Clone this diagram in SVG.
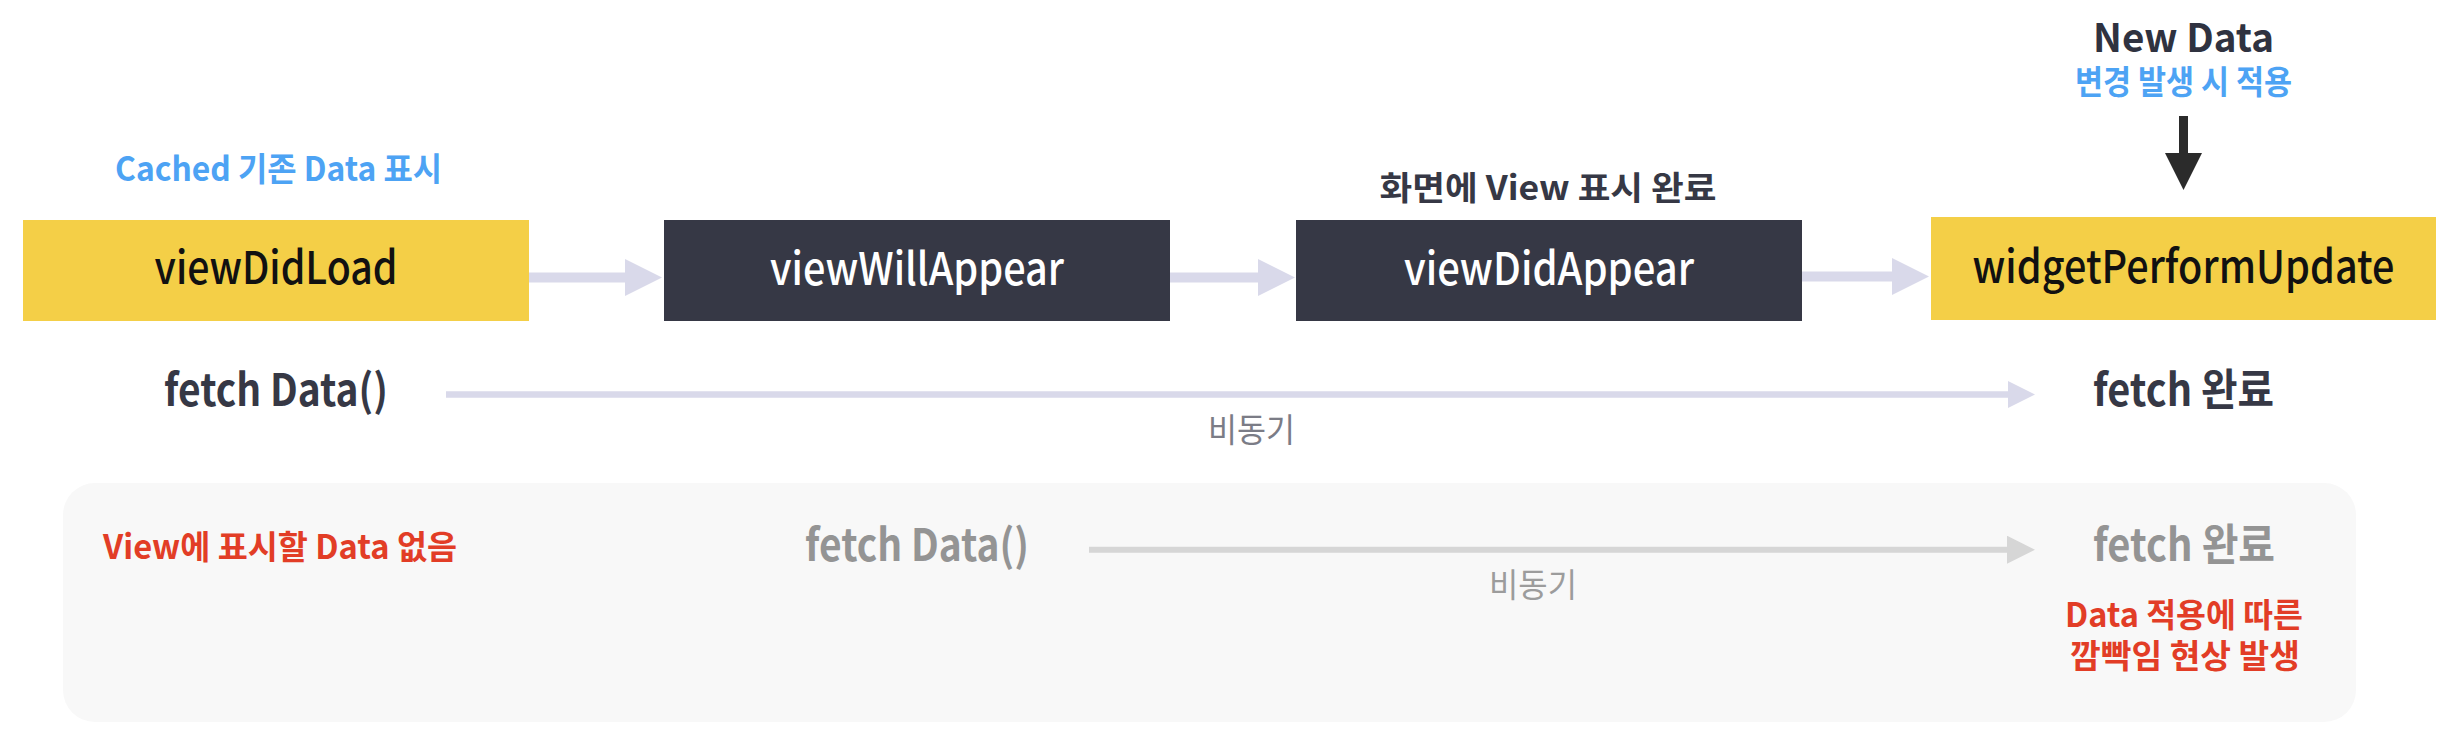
<svg xmlns="http://www.w3.org/2000/svg" width="2460" height="752" viewBox="0 0 2460 752">
  <style>
    text { font-family: "Noto Sans CJK KR", "Noto Sans", sans-serif; }
    .lbl { font-size: 45px; font-weight: 500; text-anchor: middle; }
    .dark { fill: #111111; }
    .white { fill: #ffffff; }
    .note { font-size: 33px; font-weight: 700; }
    .blue { fill: #4da3f4; }
    .red { fill: #e23d26; }
    .ink { fill: #363845; }
    .fetch { font-size: 44px; font-weight: 700; text-anchor: middle; }
    .gray { fill: #949494; }
    .async { font-size: 33px; font-weight: 400; text-anchor: middle; }
    .ybox { fill: #f4cf47; }
    .dbox { fill: #363845; }
    .flow { stroke: #d9d9ea; stroke-width: 10; fill: none; }
    .line { stroke: #d9d9ea; stroke-width: 6.5; fill: none; }
    .gline { stroke: #d6d6d6; stroke-width: 6; fill: none; }
    .down { stroke: #2b2b2b; stroke-width: 9; fill: none; }
  </style>
  <defs>
    <marker id="headFlow" markerUnits="userSpaceOnUse" markerWidth="37" markerHeight="37" viewBox="0 0 37 37" refX="0" refY="18.5" orient="auto">
      <polygon points="0,0 37,18.5 0,37" fill="#d9d9ea"/>
    </marker>
    <marker id="headLine" markerUnits="userSpaceOnUse" markerWidth="27" markerHeight="27" viewBox="0 0 27 27" refX="0" refY="13.5" orient="auto">
      <polygon points="0,0 27,13.5 0,27" fill="#d9d9ea"/>
    </marker>
    <marker id="headGray" markerUnits="userSpaceOnUse" markerWidth="28" markerHeight="28" viewBox="0 0 28 28" refX="0" refY="14" orient="auto">
      <polygon points="0,0 28,14 0,28" fill="#d6d6d6"/>
    </marker>
    <marker id="headDown" markerUnits="userSpaceOnUse" markerWidth="37" markerHeight="37" viewBox="0 0 37 37" refX="0" refY="18.5" orient="auto">
      <polygon points="0,0 37,18.5 0,37" fill="#2b2b2b"/>
    </marker>
  </defs>

  <rect width="2460" height="752" fill="#ffffff"/>

  <g id="panel">
    <rect x="63" y="483" width="2293" height="239" rx="32" ry="32" fill="#f8f8f8"/>
  </g>

  <g id="connectors">
    <line class="flow" x1="529" y1="277.5" x2="625" y2="277.5" marker-end="url(#headFlow)"/>
    <line class="flow" x1="1170" y1="277.5" x2="1258" y2="277.5" marker-end="url(#headFlow)"/>
    <line class="flow" x1="1802" y1="276.5" x2="1892" y2="276.5" marker-end="url(#headFlow)"/>
    <line class="line" x1="446" y1="394.5" x2="2008" y2="394.5" marker-end="url(#headLine)"/>
    <line class="gline" x1="1089" y1="549.7" x2="2007" y2="549.7" marker-end="url(#headGray)"/>
    <line class="down" x1="2183.5" y1="116" x2="2183.5" y2="153" marker-end="url(#headDown)"/>
  </g>

  <g id="viewDidLoad">
    <rect class="ybox" x="23" y="220" width="506" height="101"/>
    <text class="lbl dark" x="276" y="284" textLength="243" lengthAdjust="spacingAndGlyphs">viewDidLoad</text>
  </g>
  <g id="viewWillAppear">
    <rect class="dbox" x="664" y="220" width="506" height="101"/>
    <text class="lbl white" x="917" y="285" textLength="294" lengthAdjust="spacingAndGlyphs">viewWillAppear</text>
  </g>
  <g id="viewDidAppear">
    <rect class="dbox" x="1296" y="220" width="506" height="101"/>
    <text class="lbl white" x="1549" y="285" textLength="290" lengthAdjust="spacingAndGlyphs">viewDidAppear</text>
  </g>
  <g id="widgetPerformUpdate">
    <rect class="ybox" x="1931" y="217" width="505" height="103"/>
    <text class="lbl dark" x="2183.5" y="283" textLength="422" lengthAdjust="spacingAndGlyphs">widgetPerformUpdate</text>
  </g>

  <g id="labels">
    <text class="note blue" x="278.5" y="181" text-anchor="middle" textLength="327" lengthAdjust="spacingAndGlyphs">Cached 기존 Data 표시</text>
    <text class="note ink" x="1548" y="200" text-anchor="middle" font-size="34" textLength="337" lengthAdjust="spacingAndGlyphs">화면에 View 표시 완료</text>
    <text x="2183.5" y="52" text-anchor="middle" font-size="39" font-weight="700" fill="#2f3240" textLength="181" lengthAdjust="spacingAndGlyphs">New Data</text>
    <text class="note blue" x="2183.5" y="94" text-anchor="middle" font-size="31" textLength="217" lengthAdjust="spacingAndGlyphs">변경 발생 시 적용</text>
    <text class="fetch ink" x="276" y="406" textLength="224" lengthAdjust="spacingAndGlyphs">fetch Data()</text>
    <text class="fetch ink" x="2183.5" y="406" textLength="181" lengthAdjust="spacingAndGlyphs">fetch 완료</text>
    <text class="async" x="1251.5" y="442" fill="#7b7c86" textLength="87" lengthAdjust="spacingAndGlyphs">비동기</text>

    <text class="note red" x="103" y="559" font-size="32" textLength="354" lengthAdjust="spacingAndGlyphs">View에 표시할 Data 없음</text>
    <text class="fetch gray" x="917" y="561" font-weight="500" textLength="224" lengthAdjust="spacingAndGlyphs">fetch Data()</text>
    <text class="fetch gray" x="2184" y="561" font-weight="500" textLength="182" lengthAdjust="spacingAndGlyphs">fetch 완료</text>
    <text class="async" x="1533" y="597" fill="#9c9c9c" textLength="88" lengthAdjust="spacingAndGlyphs">비동기</text>
    <text class="note red" x="2184" y="627" text-anchor="middle" textLength="238" lengthAdjust="spacingAndGlyphs">Data 적용에 따른</text>
    <text class="note red" x="2185" y="668" text-anchor="middle" font-size="32" textLength="230" lengthAdjust="spacingAndGlyphs">깜빡임 현상 발생</text>
  </g>
</svg>
